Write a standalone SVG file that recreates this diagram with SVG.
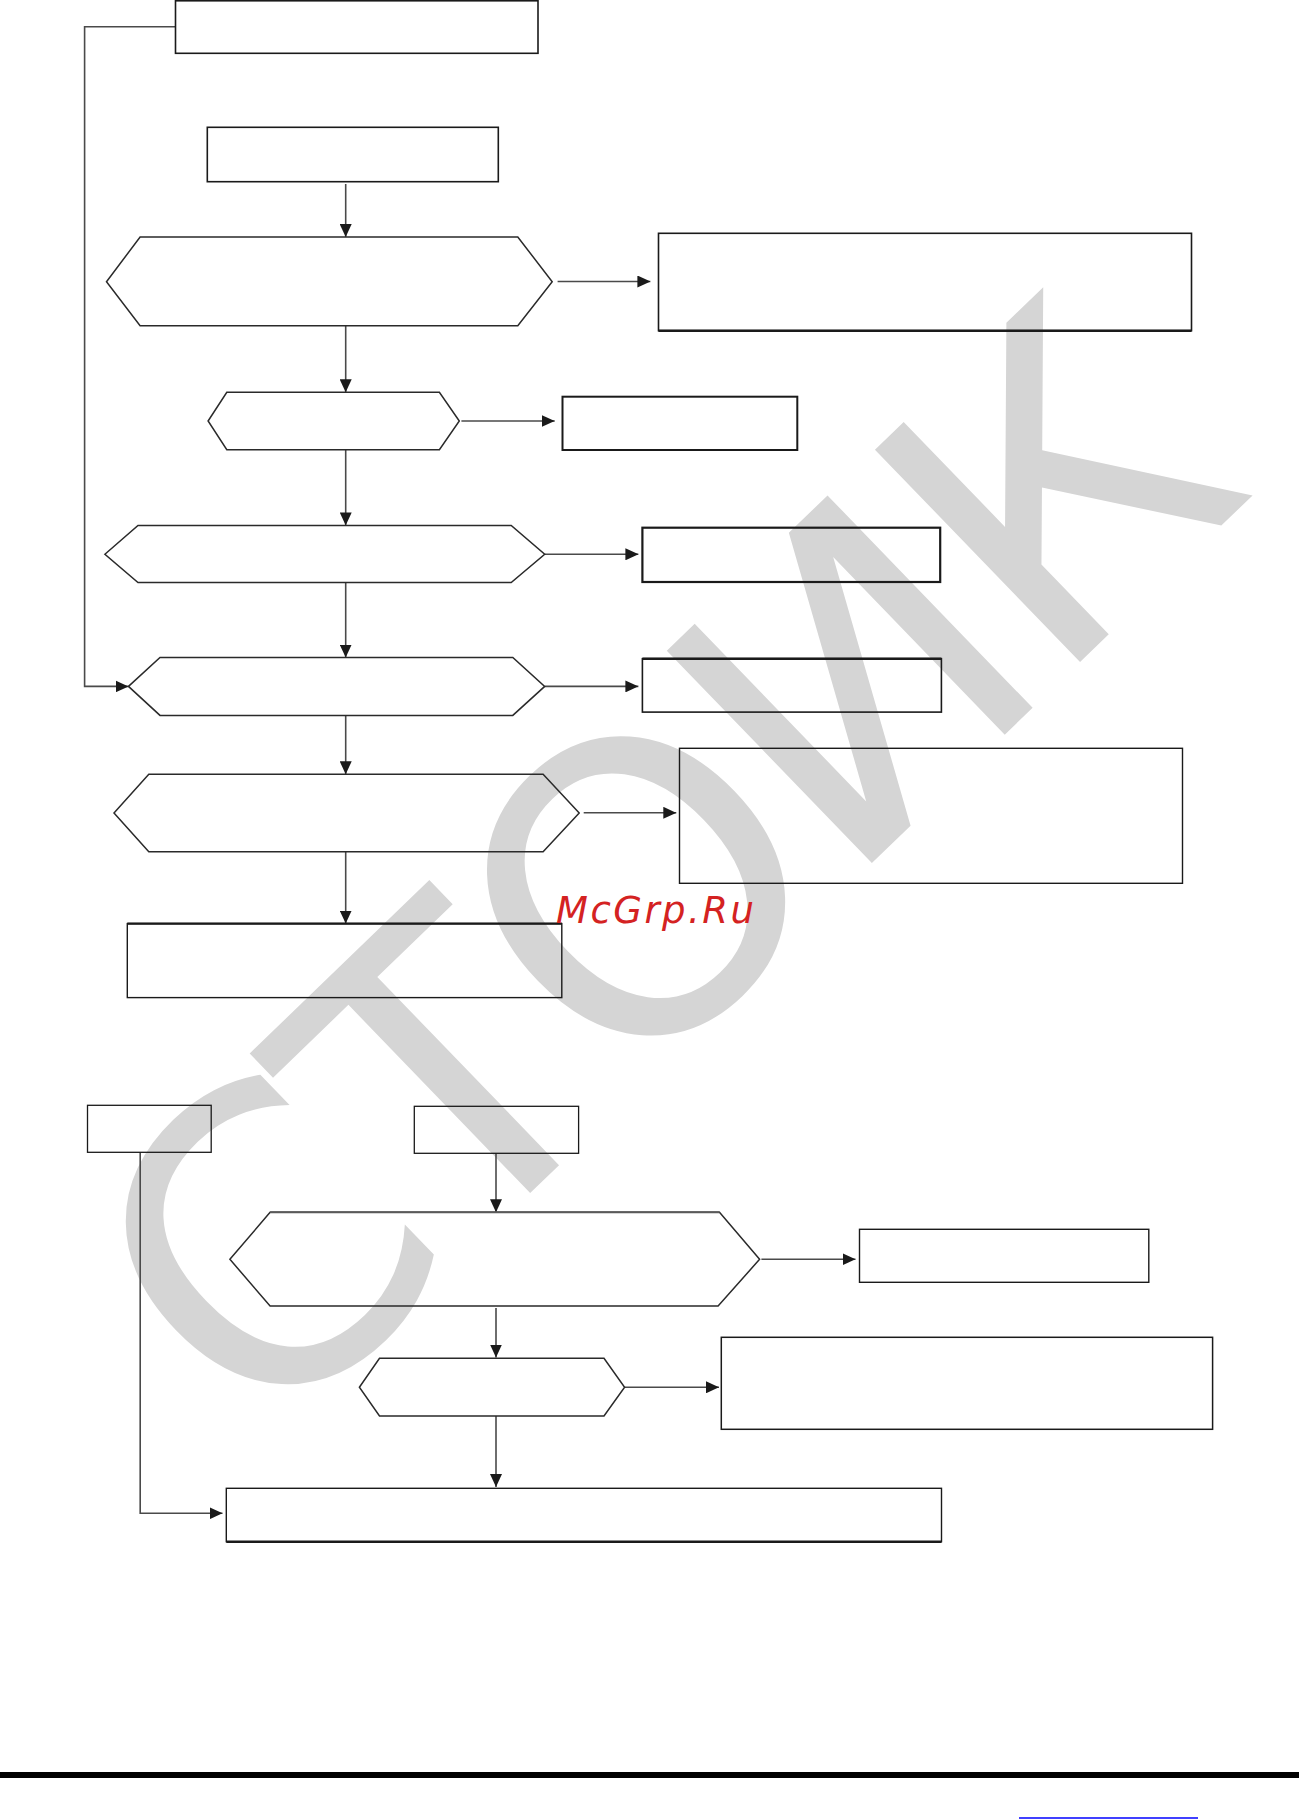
<svg xmlns="http://www.w3.org/2000/svg" width="1299" height="1819" viewBox="0 0 1299 1819">
<style>
.box{fill:none;stroke:#1a1a1a;stroke-width:1.6}
.hex{fill:none;stroke:#2a2a2a;stroke-width:1.5;stroke-linejoin:miter}
.ln{fill:none;stroke:#4a4a4a;stroke-width:1.6}
.arr{fill:none;stroke:#4a4a4a;stroke-width:1.6;marker-end:url(#ah)}
.wm{font-family:"DejaVu Sans",sans-serif;font-size:405px;fill:#d5d5d5}
.mc{font-family:"DejaVu Sans",sans-serif;font-style:italic;font-size:37px;fill:#d42222}
</style>
<defs>
<marker id="ah" viewBox="0 0 13 12" refX="13" refY="6" markerWidth="13" markerHeight="12" markerUnits="userSpaceOnUse" orient="auto">
<path d="M0,0 L13,6 L0,12 Z" fill="#1a1a1a"/>
</marker>
</defs>
<rect x="0" y="0" width="1299" height="1819" fill="#ffffff"/>
<g id="watermark">
<text class="wm" x="262" y="1452" textLength="1385" lengthAdjust="spacing" transform="rotate(-44 262 1452)">СТОИК</text>
</g>
<g id="connectors">
<polyline class="arr" points="175.5,26.7 84.6,26.7 84.6,686.4 128.5,686.4"/>
<line class="arr" x1="345.7" y1="184" x2="345.7" y2="237"/>
<line class="arr" x1="557.6" y1="281.5" x2="650.4" y2="281.5"/>
<line class="arr" x1="345.7" y1="325.7" x2="345.7" y2="392.3"/>
<line class="arr" x1="461.4" y1="421" x2="554.7" y2="421"/>
<line class="arr" x1="345.7" y1="449.7" x2="345.7" y2="525.4"/>
<line class="arr" x1="544.7" y1="554.3" x2="638.4" y2="554.3"/>
<line class="arr" x1="345.7" y1="582.5" x2="345.7" y2="657.5"/>
<line class="arr" x1="544.7" y1="686.4" x2="638.4" y2="686.4"/>
<line class="arr" x1="345.7" y1="715.4" x2="345.7" y2="774.3"/>
<line class="arr" x1="583.7" y1="812.8" x2="676.3" y2="812.8"/>
<line class="arr" x1="345.7" y1="851.8" x2="345.7" y2="923.6"/>
<polyline class="arr" points="140.2,1152.3 140.2,1513.3 222.5,1513.3"/>
<line class="arr" x1="496" y1="1153.3" x2="496" y2="1212.3"/>
<line class="arr" x1="761.4" y1="1259.2" x2="855.5" y2="1259.2"/>
<line class="arr" x1="496" y1="1308" x2="496" y2="1357.5"/>
<line class="arr" x1="624.6" y1="1387.3" x2="719" y2="1387.3"/>
<line class="arr" x1="496" y1="1416" x2="496" y2="1487"/>
</g>
<g id="n1"><rect class="box" x="175.5" y="0.8" width="362.5" height="52.5"/></g>
<g id="n2"><rect class="box" x="207.3" y="127.3" width="291" height="54.4"/></g>
<g id="n3"><polygon class="hex" points="106.5,281.7 140.1,237 517.8,237 552.2,281.7 517.8,325.7 140.1,325.7"/></g>
<g id="n4"><rect class="box" x="658.5" y="233.3" width="533" height="97.4"/><line x1="658.5" y1="330.7" x2="1191.5" y2="330.7" stroke="#1a1a1a" stroke-width="2.6"/></g>
<g id="n5"><polygon class="hex" points="208.1,421 226.8,392.3 439.4,392.3 459.3,421 439.4,449.7 226.8,449.7"/></g>
<g id="n6"><rect class="box" x="562.5" y="396.7" width="234.8" height="53.3" style="stroke-width:2"/></g>
<g id="n7"><polygon class="hex" points="104.9,554.3 138,525.4 511.2,525.4 544.7,554.3 511.2,582.5 138,582.5"/></g>
<g id="n8"><rect class="box" x="642.4" y="527.7" width="297.8" height="54.3" style="stroke-width:2.2"/></g>
<g id="n9"><polygon class="hex" points="128.5,686.4 160,657.5 512.8,657.5 544.7,686.4 512.8,715.4 160,715.4"/></g>
<g id="n10"><rect class="box" x="642.4" y="658.7" width="299" height="53.4"/><line x1="642.4" y1="658.7" x2="941.4" y2="658.7" stroke="#1a1a1a" stroke-width="2.4"/></g>
<g id="n11"><polygon class="hex" points="114,812.9 148.8,774.3 543.1,774.3 579.2,812.9 543.1,851.8 148.8,851.8"/></g>
<g id="n12"><rect class="box" x="679.5" y="748.3" width="503" height="135" style="stroke-width:1.4"/></g>
<g id="n13"><rect class="box" x="127.3" y="923.6" width="434.5" height="74" style="stroke-width:1.4"/><line x1="127.3" y1="923.6" x2="561.8" y2="923.6" stroke="#1a1a1a" stroke-width="2.2"/></g>
<g id="n14"><rect class="box" x="87.5" y="1105.3" width="123.7" height="47" style="stroke-width:1.3"/></g>
<g id="n15"><rect class="box" x="414.3" y="1106.3" width="164.3" height="47" style="stroke-width:1.3"/></g>
<g id="n16"><polygon class="hex" points="229.9,1259.3 270.1,1212.3 719.5,1212.3 759.6,1259.3 718.1,1306 270.1,1306"/><line x1="270.1" y1="1212.3" x2="719.5" y2="1212.3" stroke="#5a5a5a" stroke-width="2"/></g>
<g id="n17"><rect class="box" x="859.5" y="1229.3" width="289.3" height="53" style="stroke-width:1.4"/></g>
<g id="n18"><polygon class="hex" points="359.4,1387.3 379.5,1358.3 604,1358.3 624.6,1387.3 604,1416 379.5,1416"/></g>
<g id="n19"><rect class="box" x="721.3" y="1337.3" width="491.3" height="92" style="stroke-width:1.5"/></g>
<g id="n20"><rect class="box" x="226.3" y="1488.3" width="715.2" height="53.4" style="stroke-width:1.4"/><line x1="226.3" y1="1541.7" x2="941.5" y2="1541.7" stroke="#1a1a1a" stroke-width="2.6"/></g>
<text class="mc" x="556" y="923" textLength="198" lengthAdjust="spacing">McGrp.Ru</text>
<rect x="0" y="1772" width="1299" height="6" fill="#000000"/>
<line x1="1019" y1="1818" x2="1198" y2="1818" stroke="#0000ff" stroke-width="1.6"/>
</svg>
